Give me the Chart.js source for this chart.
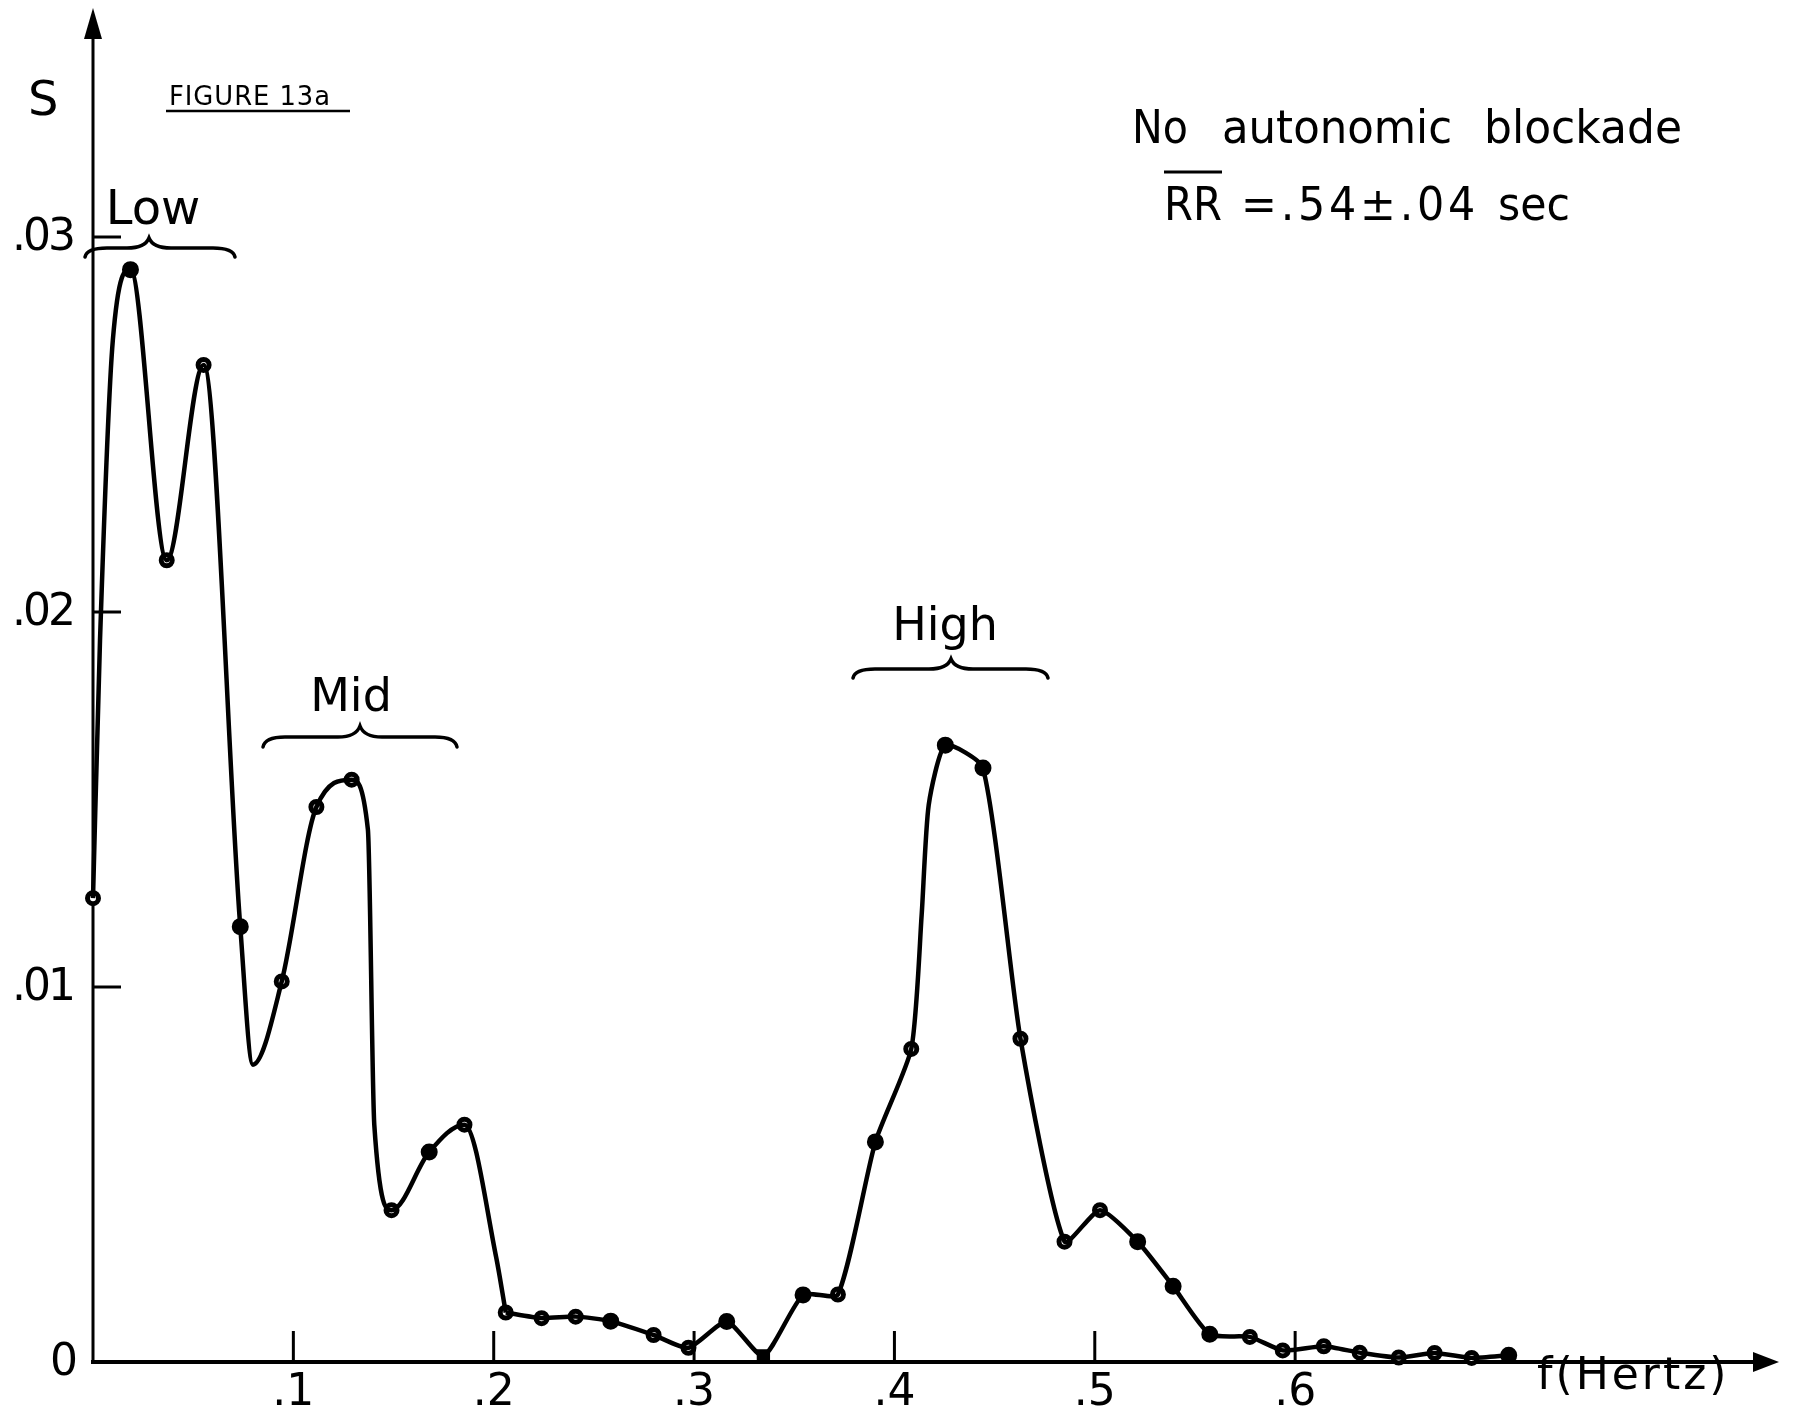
<!DOCTYPE html>
<html>
<head>
<meta charset="utf-8">
<title>Figure 13a</title>
<script src="https://cdn.jsdelivr.net/npm/chart.js@4.4.0/dist/chart.umd.min.js"></script>
<style>
  html, body { margin: 0; padding: 0; background: #fff; }
  canvas { display: block; }
</style>
</head>
<body>
<canvas id="spectrum" width="1798" height="1413"></canvas>
<script>
// power spectrum samples, f in Hz and S
var freq = [0.0000, 0.0187, 0.0368, 0.0552, 0.0735, 0.0942, 0.1115, 0.1291, 0.1490, 0.1678,
            0.1854, 0.2060, 0.2239, 0.2409, 0.2584, 0.2798, 0.2972, 0.3163, 0.3346, 0.3544,
            0.3718, 0.3905, 0.4084, 0.4254, 0.4442, 0.4629, 0.4849, 0.5026, 0.5214, 0.5391,
            0.5574, 0.5774, 0.5938, 0.6143, 0.6322, 0.6517, 0.6696, 0.6881, 0.7066];
var power = [0.01237, 0.02913, 0.02138, 0.02659, 0.01161, 0.01015, 0.01480, 0.01553, 0.00405, 0.00560,
             0.00633, 0.00132, 0.00117, 0.00121, 0.00109, 0.00072, 0.00038, 0.00108, 0.00016, 0.00179,
             0.00180, 0.00587, 0.00835, 0.01645, 0.01584, 0.00862, 0.00321, 0.00405, 0.00321, 0.00202,
             0.00074, 0.00067, 0.00031, 0.00042, 0.00025, 0.00012, 0.00024, 0.00011, 0.00018];

// extra vertices of the hand drawn curve between samples
var bendF = [0.0035, 0.0099, 0.0798, 0.1372, 0.1404, 0.2012, 0.4136, 0.4171];
var bendS = [0.01925, 0.02725, 0.00793, 0.01420, 0.00632, 0.00280, 0.01193, 0.01485];

var xTickVals = [0.1, 0.2, 0.3, 0.4, 0.5, 0.6];
var xTickText = ['.1', '.2', '.3', '.4', '.5', '.6'];
var yTickVals = [0.01, 0.02, 0.03];
var yTickText = ['.01', '.02', '.03'];

var bands = ['Low', 'Mid', 'High'];

// marker look: solid dots and the one square, the rest are rings
var filledMarks = [1, 4, 9, 14, 17, 18, 19, 21, 23, 24, 28, 29, 30, 38];
var squareMarks = [18];

var samples = freq.map(function (f, i) { return { x: f, y: power[i] }; });
var bends = bendF.map(function (f, i) { return { x: f, y: bendS[i] }; });
var traced = samples.concat(bends).sort(function (a, b) { return a.x - b.x; });
var splitF = freq[11];
var lowTrace = traced.filter(function (p) { return p.x <= splitF; });
var highTrace = traced.filter(function (p) { return p.x >= splitF; });

var FONT = '"DejaVu Sans", sans-serif';

function isFilled(c) { return filledMarks.indexOf(c.dataIndex) >= 0; }
function isSquare(c) { return squareMarks.indexOf(c.dataIndex) >= 0; }

function brace(ctx, x1, x2, xm, y, h, d) {
  var q = 22;
  ctx.beginPath();
  ctx.moveTo(x1, y + d);
  ctx.quadraticCurveTo(x1 + 2, y, x1 + q, y);
  ctx.lineTo(xm - q, y);
  ctx.quadraticCurveTo(xm - 4, y, xm, y - h);
  ctx.quadraticCurveTo(xm + 4, y, xm + q, y);
  ctx.lineTo(x2 - q, y);
  ctx.quadraticCurveTo(x2 - 2, y, x2, y + d);
  ctx.stroke();
}

var axesPlugin = {
  id: 'axes',
  beforeDatasetsDraw: function (chart) {
    var ctx = chart.ctx, xs = chart.scales.x, ys = chart.scales.y, area = chart.chartArea;
    var x0 = xs.getPixelForValue(0), y0 = ys.getPixelForValue(0);
    ctx.save();
    ctx.strokeStyle = '#000';
    ctx.fillStyle = '#000';
    ctx.lineCap = 'square';

    // vertical axis with arrow
    ctx.lineWidth = 3;
    ctx.beginPath();
    ctx.moveTo(x0, y0);
    ctx.lineTo(x0, area.top + 20);
    ctx.stroke();
    ctx.beginPath();
    ctx.moveTo(x0, area.top - 4);
    ctx.lineTo(x0 - 9, area.top + 27);
    ctx.lineTo(x0 + 9, area.top + 27);
    ctx.closePath();
    ctx.fill();

    // horizontal axis with arrow
    ctx.lineWidth = 4;
    ctx.beginPath();
    ctx.moveTo(x0, y0);
    ctx.lineTo(area.right - 10, y0);
    ctx.stroke();
    ctx.beginPath();
    ctx.moveTo(area.right + 3, y0);
    ctx.lineTo(area.right - 23, y0 - 10);
    ctx.lineTo(area.right - 23, y0 + 10);
    ctx.closePath();
    ctx.fill();

    // ticks drawn inward
    ctx.lineWidth = 3;
    ctx.lineCap = 'butt';
    yTickVals.forEach(function (v) {
      var y = ys.getPixelForValue(v);
      ctx.beginPath();
      ctx.moveTo(x0, y);
      ctx.lineTo(x0 + 28, y);
      ctx.stroke();
    });
    xTickVals.forEach(function (v) {
      var x = xs.getPixelForValue(v);
      ctx.beginPath();
      ctx.moveTo(x, y0);
      ctx.lineTo(x, y0 - 31);
      ctx.stroke();
    });
    ctx.restore();
  },
  afterDraw: function (chart) {
    var ctx = chart.ctx, xs = chart.scales.x, ys = chart.scales.y;
    var x0 = xs.getPixelForValue(0), y0 = ys.getPixelForValue(0);
    ctx.save();
    ctx.fillStyle = '#000';
    ctx.strokeStyle = '#000';

    // tick labels
    ctx.font = '44px ' + FONT;
    ctx.textAlign = 'right';
    ctx.textBaseline = 'middle';
    ctx.letterSpacing = '-3px';
    yTickVals.forEach(function (v, i) {
      ctx.fillText(yTickText[i], x0 - 20, ys.getPixelForValue(v) + 2);
    });
    ctx.letterSpacing = '0px';
    ctx.fillText('0', x0 - 15, y0 + 2);
    ctx.textAlign = 'center';
    ctx.textBaseline = 'alphabetic';
    xTickVals.forEach(function (v, i) {
      ctx.fillText(xTickText[i], xs.getPixelForValue(v), y0 + 43);
    });

    // axis titles
    ctx.textAlign = 'left';
    ctx.font = '48px ' + FONT;
    ctx.fillText('S', 28, 115);
    ctx.font = '44px ' + FONT;
    ctx.letterSpacing = '3px';
    ctx.fillText('f(Hertz)', 1537, y0 + 27);
    ctx.letterSpacing = '0px';

    // figure tag
    ctx.font = '27px ' + FONT;
    ctx.letterSpacing = '1px';
    ctx.fillText('FIGURE 13a', 169, 105, 162);
    ctx.letterSpacing = '0px';
    ctx.lineWidth = 2.5;
    ctx.beginPath();
    ctx.moveTo(166, 111);
    ctx.lineTo(350, 111);
    ctx.stroke();

    // condition note
    ctx.font = '47px ' + FONT;
    ctx.fillText('No', 1132, 143, 56);
    ctx.fillText('autonomic', 1222, 143, 230);
    ctx.fillText('blockade', 1484, 143, 198);
    ctx.font = '46px ' + FONT;
    ctx.fillText('RR', 1164, 220, 58);
    ctx.letterSpacing = '4px';
    ctx.fillText('=.54\u00b1.04', 1241, 220, 238);
    ctx.letterSpacing = '0px';
    ctx.fillText('sec', 1498, 220, 72);
    ctx.lineWidth = 3;
    ctx.beginPath();
    ctx.moveTo(1164, 172);
    ctx.lineTo(1222, 172);
    ctx.stroke();

    // band braces and names
    ctx.lineWidth = 3.5;
    ctx.lineCap = 'round';
    brace(ctx, 85, 235, 149, 248, 10, 9);
    brace(ctx, 263, 457, 360, 737, 11, 10);
    brace(ctx, 853, 1048, 951, 669, 10, 9);
    ctx.textAlign = 'center';
    ctx.font = '48px ' + FONT;
    ctx.fillText(bands[0], 153, 224);
    ctx.font = '46px ' + FONT;
    ctx.fillText(bands[1], 351, 711);
    ctx.fillText(bands[2], 945, 640);
    ctx.restore();
  }
};

new Chart(document.getElementById('spectrum'), {
  type: 'line',
  data: {
    datasets: [
      {
        data: lowTrace,
        borderColor: '#000',
        borderWidth: 4.5,
        pointRadius: 0,
        cubicInterpolationMode: 'monotone',
        fill: false,
        clip: false
      },
      {
        data: highTrace,
        borderColor: '#000',
        borderWidth: 4.5,
        pointRadius: 0,
        tension: 0.2,
        fill: false,
        clip: false
      },
      {
        data: samples,
        showLine: false,
        pointStyle: function (c) { return isSquare(c) ? 'rect' : 'circle'; },
        pointRadius: function (c) {
          if (isSquare(c)) return 8;
          return isFilled(c) ? 7.5 : 5.5;
        },
        pointBorderWidth: function (c) { return isFilled(c) ? 2 : 5; },
        pointBackgroundColor: function (c) { return isFilled(c) ? '#000' : '#fff'; },
        pointBorderColor: '#000',
        clip: false
      }
    ]
  },
  options: {
    responsive: false,
    animation: false,
    devicePixelRatio: 1,
    layout: { padding: { left: 93, right: 22, top: 12, bottom: 51 } },
    scales: {
      x: { type: 'linear', min: 0, max: 0.84, display: false },
      y: { type: 'linear', min: 0, max: 0.036, display: false }
    },
    plugins: {
      legend: { display: false },
      tooltip: { enabled: false }
    }
  },
  plugins: [axesPlugin]
});
</script>
</body>
</html>
